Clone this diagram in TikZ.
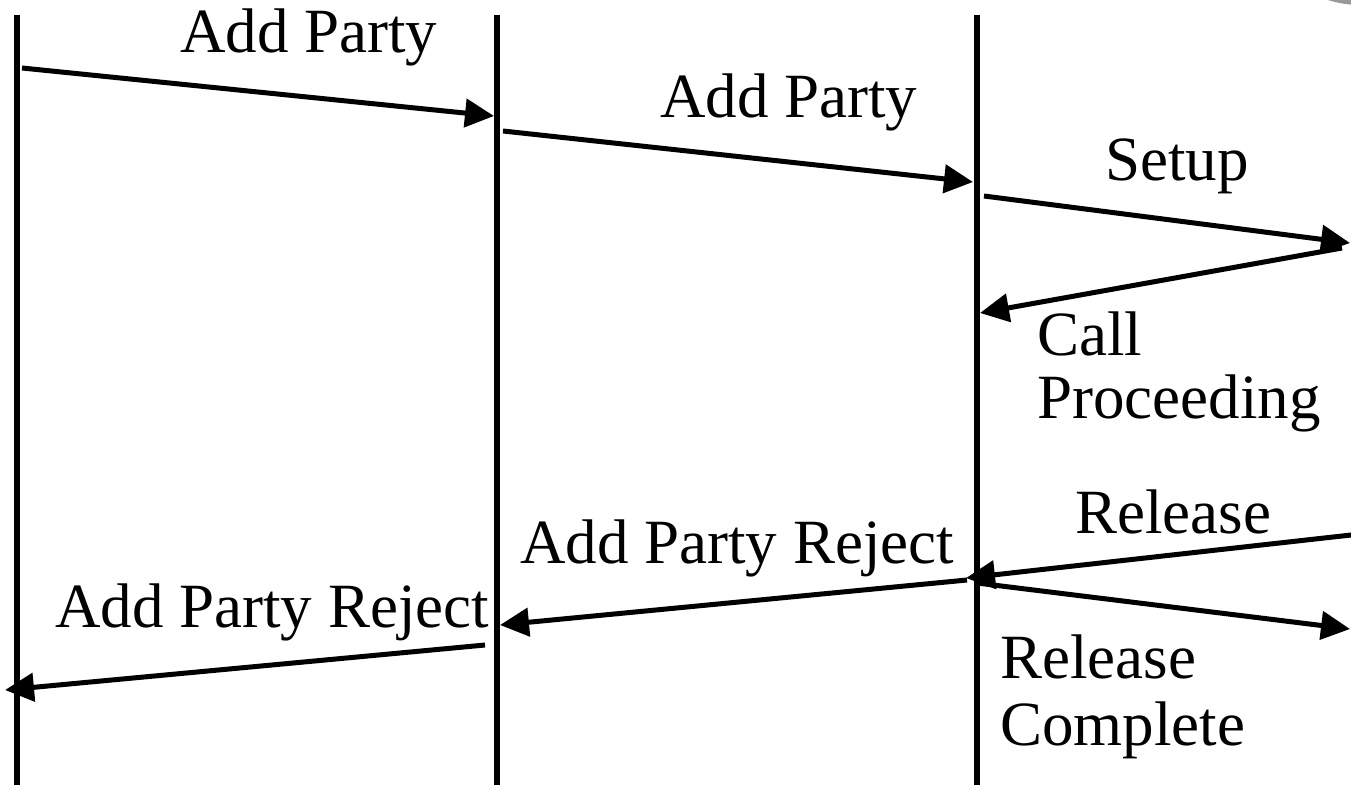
\documentclass[tikz,border=0pt]{standalone}
\usepackage{fontspec}
\setmainfont{Liberation Serif}
\usetikzlibrary{arrows.meta}
\begin{document}
\begin{tikzpicture}[x=1pt,y=-1pt,
  lifeline/.style={line width=6pt},
  msg/.style={line width=5pt,-{Triangle[length=29pt,width=28pt]}},
  lbl/.style={anchor=base west,inner sep=0pt,font=\fontsize{63}{70}\selectfont}]
\useasboundingbox (0,0) rectangle (1351,785);
\begin{scope}
\clip (0,0) rectangle (1351,785);
\fill[black!40] (1360,-100) circle (105);
\end{scope}
% lifelines
\coordinate (a0) at (17,15); \coordinate (a1) at (17,785);
\coordinate (b0) at (497,15); \coordinate (b1) at (497,785);
\coordinate (c0) at (977,15); \coordinate (c1) at (977,785);
\draw[lifeline] (a0) -- (a1);
\draw[lifeline] (b0) -- (b1);
\draw[lifeline] (c0) -- (c1);
% message endpoints
\coordinate (m1s) at (22,68);   \coordinate (m1e) at (494,116);
\coordinate (m2s) at (503,131); \coordinate (m2e) at (973,182);
\coordinate (m3s) at (984,196); \coordinate (m3e) at (1350,243);
\coordinate (m4s) at (1342,248); \coordinate (m4e) at (980,313);
\coordinate (m5s) at (1351,535); \coordinate (m5e) at (966,578);
\coordinate (m6s) at (977,583); \coordinate (m6e) at (1350,629);
\coordinate (m7s) at (967,580); \coordinate (m7e) at (500,625);
\coordinate (m8s) at (485,645); \coordinate (m8e) at (5,690);
\draw[msg] (m1s) -- (m1e);
\draw[msg] (m2s) -- (m2e);
\draw[msg] (m3s) -- (m3e);
\draw[msg] (m4s) -- (m4e);
\draw[msg] (m5s) -- (m5e);
\draw[msg] (m6s) -- (m6e);
\draw[msg] (m7s) -- (m7e);
\draw[msg] (m8s) -- (m8e);
% labels
\node[lbl] (t1) at (180,52) {Add Party};
\node[lbl] (t2) at (660,117) {Add Party};
\node[lbl] (t3) at (1105,180) {Setup};
\node[lbl] (t4) at (1037,355) {Call};
\node[lbl] (t5) at (1037,418) {Proceeding};
\node[lbl] (t6) at (1075,533) {Release};
\node[lbl] (t7) at (520,563) {Add Party Reject};
\node[lbl] (t8) at (55,627) {Add Party Reject};
\node[lbl] (t9) at (1000,678) {Release};
\node[lbl] (t10) at (1000,745) {Complete};
\end{tikzpicture}
\end{document}
